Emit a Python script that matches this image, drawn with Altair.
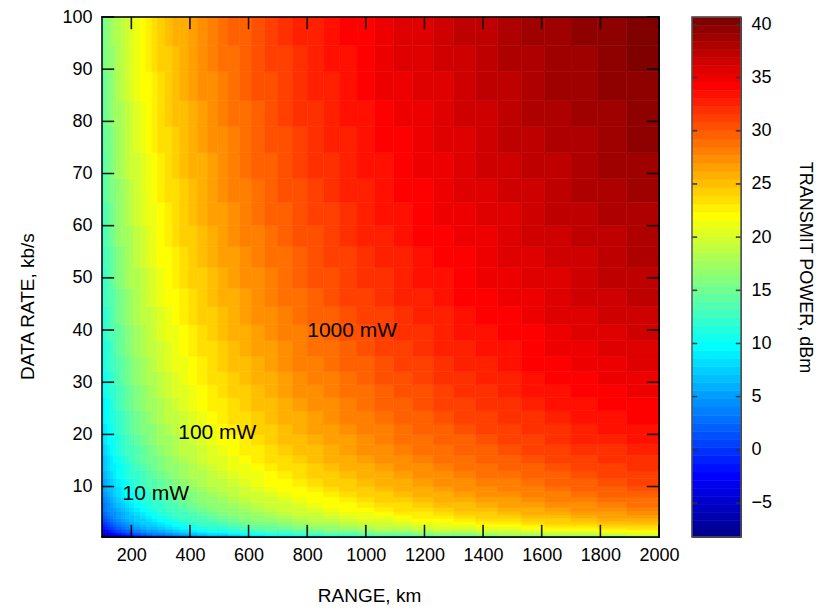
import altair as alt
import pandas as pd

# ---------------- data ----------------
peak_dbm = 40.7  # power at 2000 km, 100 kb/s (top-right corner)

# range cells (km): edges, and power offset (dB) of each column relative to 2000 km
range_edges = [100, 110, 120, 130, 140, 150, 165, 180, 195, 210, 230, 250, 270, 290,
               315, 340, 365, 395, 425, 460, 495, 530, 570, 610, 655, 700, 750, 800,
               855, 910, 970, 1030, 1095, 1160, 1230, 1300, 1375, 1450, 1530, 1610,
               1700, 1790, 1890, 2000]
range_offset_db = [-25.60, -24.81, -24.08, -23.41, -22.79, -22.07, -21.28, -20.56, -19.89,
                   -19.17, -18.42, -17.72, -17.08, -16.41, -15.72, -15.08, -14.42, -13.76,
                   -13.10, -12.44, -11.83, -11.21, -10.60, -10.00, -9.40, -8.81, -8.23,
                   -7.66, -7.11, -6.56, -6.02, -5.49, -4.98, -4.47, -3.98, -3.49, -3.02,
                   -2.56, -2.10, -1.64, -1.18, -0.72, -0.24]

# data-rate cells (kb/s): edges, and power offset (dB) of each row relative to 100 kb/s
rate_edges = [0.33, 0.4, 0.5, 0.6, 0.7, 0.85, 1.0, 1.2, 1.4, 1.7, 2.0, 2.4, 2.8, 3.3, 3.9,
              4.5, 5.2, 6, 7, 8, 9, 10, 11.5, 13, 14.5, 16, 18, 20, 22, 24.5, 27, 29.5,
              32, 35, 38, 41, 44.5, 48, 52, 56, 60, 64.5, 69, 74, 79, 84, 89.5, 94.5, 100]
rate_offset_db = [-24.38, -23.47, -22.60, -21.87, -21.11, -20.34, -19.59, -18.86, -18.10,
                  -17.33, -16.58, -15.85, -15.16, -14.44, -13.77, -13.14, -12.52, -11.87,
                  -11.25, -10.71, -10.22, -9.69, -9.12, -8.62, -8.17, -7.70, -7.21, -6.78,
                  -6.34, -5.89, -5.49, -5.12, -4.75, -4.38, -4.03, -3.69, -3.35, -3.01,
                  -2.68, -2.37, -2.06, -1.76, -1.46, -1.16, -0.89, -0.62, -0.36, -0.12]

power_min, power_max = -8.2, 40.7   # colorbar limits

x_ticks = [200, 400, 600, 800, 1000, 1200, 1400, 1600, 1800, 2000]
y_ticks = [10, 20, 30, 40, 50, 60, 70, 80, 90, 100]
cb_ticks = [-5, 0, 5, 10, 15, 20, 25, 30, 35, 40]

annot_text = ["10 mW", "100 mW", "1000 mW"]
annot_range = [170, 360, 800]
annot_rate = [8.5, 20.3, 39.8]

# ---------------- jet colormap (64 levels, MATLAB style) ----------------
def jet(m=64):
    n = -(-m // 4)
    u = [i / n for i in range(1, n + 1)] + [1.0] * (n - 1) + [i / n for i in range(n, 0, -1)]
    g0 = -(-n // 2) - (1 if m % 4 == 1 else 0)
    r = [0.0] * m
    gch = [0.0] * m
    b = [0.0] * m
    for k, val in enumerate(u):
        gi = g0 + k + 1
        ri = gi + n
        bi = gi - n
        if 1 <= ri <= m:
            r[ri - 1] = val
        if 1 <= gi <= m:
            gch[gi - 1] = val
        if 1 <= bi <= m:
            b[bi - 1] = val
    return ["#%02x%02x%02x" % (round(r[i] * 255), round(gch[i] * 255), round(b[i] * 255))
            for i in range(m)]

JET = jet(64)
STEP = (power_max - power_min) / 64


def jet_color(p):
    k = int((p - power_min) // STEP)
    return JET[max(0, min(63, k))]


FONT = "Liberation Sans"
FS = 18
W, H = 557, 520
TICK = 12
LW = 0.8   # decoration width in px (the 0.6 px outline adds a little)

XMIN, XMAX = 100, 2000
YMIN, YMAX = 0.33, 100
px = (XMAX - XMIN) / W      # one pixel in range units
py = (YMAX - YMIN) / H      # one pixel in rate units

# ---------------- main table: heat cells, then box and inward ticks ----------------
rows = []
for i, ro in enumerate(range_offset_db):
    for j, rr in enumerate(rate_offset_db):
        rows.append({"x1": range_edges[i], "x2": range_edges[i + 1],
                     "y1": rate_edges[j], "y2": rate_edges[j + 1],
                     "c": jet_color(peak_dbm + ro + rr)})
hx, hy = 0.5 * LW * px, 0.5 * LW * py
for v in x_ticks:
    rows.append({"x1": v - hx, "x2": v + hx, "y1": YMIN, "y2": YMIN + TICK * py, "c": "#000000"})
    rows.append({"x1": v - hx, "x2": v + hx, "y1": YMAX - TICK * py, "y2": YMAX, "c": "#000000"})
for v in y_ticks:
    rows.append({"x1": XMIN, "x2": XMIN + TICK * px, "y1": v - hy, "y2": v + hy, "c": "#000000"})
    rows.append({"x1": XMAX - TICK * px, "x2": XMAX, "y1": v - hy, "y2": v + hy, "c": "#000000"})
rows.append({"x1": XMIN - hx, "x2": XMAX + hx, "y1": YMIN - hy, "y2": YMIN + hy, "c": "#000000"})
rows.append({"x1": XMIN - hx, "x2": XMAX + hx, "y1": YMAX - hy, "y2": YMAX + hy, "c": "#000000"})
rows.append({"x1": XMIN - hx, "x2": XMIN + hx, "y1": YMIN - hy, "y2": YMAX + hy, "c": "#000000"})
rows.append({"x1": XMAX - hx, "x2": XMAX + hx, "y1": YMIN - hy, "y2": YMAX + hy, "c": "#000000"})
for k, r in enumerate(rows):
    r["k"] = k
cells = pd.DataFrame(rows)

xs = alt.Scale(domain=[XMIN, XMAX], nice=False, zero=False)
ys = alt.Scale(domain=[YMIN, YMAX], nice=False, zero=False)

heat = alt.Chart(cells).mark_rect(strokeWidth=0.6).encode(
    x=alt.X("x1:Q", scale=xs, axis=alt.Axis(values=x_ticks, title="RANGE, km", ticks=False,
                                           domain=False, grid=False, labelPadding=9,
                                           format="d", labelOverlap=False, labelFlush=False,
                                           titlePadding=22, titleX=267)),
    x2="x2:Q",
    y=alt.Y("y1:Q", scale=ys, axis=alt.Axis(values=y_ticks, title="DATA RATE, kb/s", ticks=False,
                                           domain=False, grid=False, labelPadding=10,
                                           labelOverlap=False, labelFlush=False,
                                           titlePadding=24, titleY=289)),
    y2="y2:Q",
    color=alt.Color("c:N", scale=None),
    stroke=alt.Stroke("c:N", scale=None),
    order=alt.Order("k:Q"),
)

annot = alt.Chart(pd.DataFrame({"t": annot_text, "x": annot_range, "y": annot_rate})).mark_text(
    align="left", baseline="middle", fontSize=21, font=FONT, color="black").encode(
    x=alt.X("x:Q", scale=xs), y=alt.Y("y:Q", scale=ys), text="t:N")

main = alt.layer(heat, annot).properties(width=W, height=H)

# ---------------- colorbar table: 64 colour steps, then frame and ticks ----------------
CBW = 49
cpy = (power_max - power_min) / H
crows = []
for i in range(64):
    crows.append({"x1": 0, "x2": CBW, "y1": power_min + i * STEP, "y2": power_min + (i + 1) * STEP,
                  "c": JET[i]})
for v in cb_ticks:
    crows.append({"x1": 0, "x2": 5, "y1": v - 0.5 * LW * cpy, "y2": v + 0.5 * LW * cpy, "c": "#333333"})
    crows.append({"x1": CBW - 5, "x2": CBW, "y1": v - 0.5 * LW * cpy, "y2": v + 0.5 * LW * cpy,
                  "c": "#333333"})
hc = 0.5 * LW
hcy = 0.5 * LW * cpy
crows.append({"x1": -hc, "x2": CBW + hc, "y1": power_min - hcy, "y2": power_min + hcy, "c": "#555555"})
crows.append({"x1": -hc, "x2": CBW + hc, "y1": power_max - hcy, "y2": power_max + hcy, "c": "#555555"})
crows.append({"x1": -hc, "x2": hc, "y1": power_min, "y2": power_max, "c": "#555555"})
crows.append({"x1": CBW - hc, "x2": CBW + hc, "y1": power_min, "y2": power_max, "c": "#555555"})
for k, r in enumerate(crows):
    r["k"] = k
cbdf = pd.DataFrame(crows)

cbs = alt.Scale(domain=[power_min, power_max], nice=False, zero=False)
cbx = alt.Scale(domain=[0, CBW], nice=False, zero=False)
colorbar = alt.Chart(cbdf).mark_rect(strokeWidth=0.6).encode(
    y=alt.Y("y1:Q", scale=cbs, axis=alt.Axis(orient="right", values=cb_ticks, ticks=False,
                                            domain=False, grid=False, labelPadding=10,
                                            labelOverlap=False, labelFlush=False,
                                            title="TRANSMIT POWER, dBm", titlePadding=24,
                                            titleFontSize=18, titleY=250)),
    y2="y2:Q",
    x=alt.X("x1:Q", scale=cbx, axis=None), x2="x2:Q",
    color=alt.Color("c:N", scale=None),
    stroke=alt.Stroke("c:N", scale=None),
    order=alt.Order("k:Q"),
).properties(width=CBW, height=H)

chart = alt.hconcat(main, colorbar, spacing=33, bounds="flush").properties(
    padding={"left": 18, "top": 7, "right": 5, "bottom": 0}
).configure(font=FONT, background="white").configure_view(
    stroke="#222222", strokeWidth=1
).configure_axis(
    labelFont=FONT, labelFontSize=FS, labelColor="black",
    titleFont=FONT, titleFontSize=19, titleFontWeight="normal", titleColor="black"
)

chart.save("out.html", embed_options={"renderer": "svg", "actions": False})
